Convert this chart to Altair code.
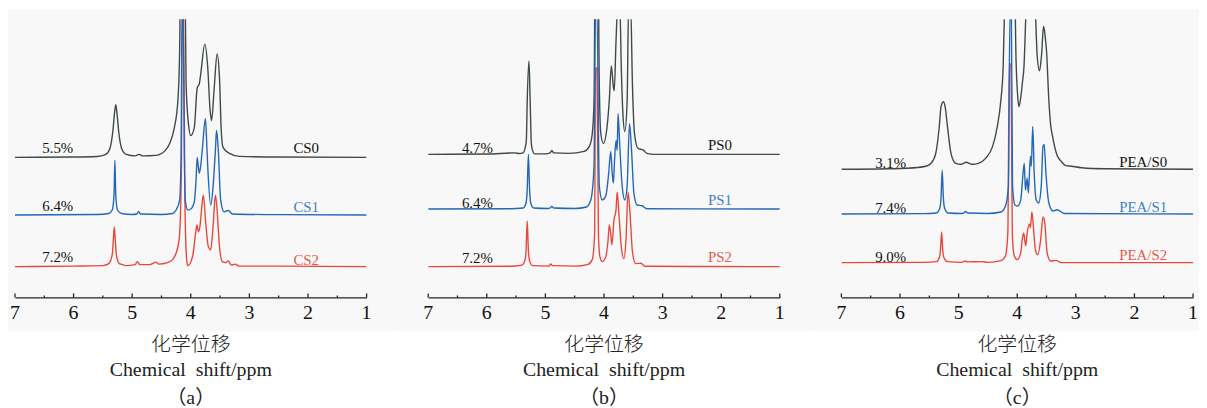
import altair as alt
import pandas as pd

# ---------------- data ----------------
TICK_PPM = [7.0, 6.5, 6.0, 5.5, 5.0, 4.5, 4.0, 3.5, 3.0, 2.5, 2.0, 1.5, 1.0]
AXIS_LABEL_PPM = [7, 6, 5, 4, 3, 2, 1]

# panel (a)
CS0_ppm = [7.0, 6.0, 5.6, 5.45, 5.38, 5.33, 5.30, 5.28, 5.26, 5.23, 5.18, 5.10, 4.95, 4.88, 4.82, 4.60, 4.53, 4.45, 4.36, 4.28, 4.22, 4.19, 4.16, 4.12, 4.10, 4.08, 4.04, 4.00, 3.94, 3.89, 3.855, 3.83, 3.76, 3.71, 3.67, 3.645, 3.60, 3.55, 3.51, 3.48, 3.45, 3.34, 3.17, 2.5, 1.0]
CS0_int = [0, 0.3, 0.8, 3, 9, 26, 45, 53, 45, 26, 9, 3, 1.5, 3, 1.5, 2, 3, 6, 14, 30, 57, 107, 260, 260, 200, 74, 34, 22, 30, 70, 74, 84, 114, 90, 47, 37, 70, 104, 80, 27, 10, 4, 1, 0.3, 0]
CS1_ppm = [7.0, 5.6, 5.40, 5.34, 5.31, 5.295, 5.28, 5.25, 5.18, 5.0, 4.92, 4.89, 4.86, 4.5, 4.31, 4.25, 4.19, 4.165, 4.15, 4.13, 4.11, 4.09, 4.05, 4.0, 3.94, 3.91, 3.89, 3.87, 3.855, 3.83, 3.80, 3.75, 3.73, 3.71, 3.66, 3.62, 3.58, 3.56, 3.53, 3.49, 3.43, 3.36, 3.29, 2.5, 1.0]
CS1_int = [0, 0.5, 1.5, 5, 20, 55, 20, 5, 1.5, 0.5, 1, 3.5, 1, 0.5, 1.5, 5, 15, 60, 200, 200, 60, 13, 5, 6, 13, 35, 58, 48, 42, 50, 68, 97, 75, 48, 10, 28, 65, 85, 65, 15, 3, 4.5, 1, 0.3, 0]
CS2_ppm = [7.0, 6.0, 5.5, 5.40, 5.34, 5.32, 5.305, 5.29, 5.27, 5.22, 5.16, 5.10, 4.95, 4.91, 4.87, 4.7, 4.59, 4.55, 4.4, 4.31, 4.22, 4.19, 4.16, 4.145, 4.125, 4.10, 4.07, 4.05, 3.97, 3.91, 3.895, 3.87, 3.845, 3.80, 3.785, 3.745, 3.70, 3.66, 3.62, 3.58, 3.555, 3.51, 3.46, 3.40, 3.36, 3.31, 3.24, 3.18, 2.5, 1.0]
CS2_int = [0, 0.5, 1, 3, 12, 28, 40, 28, 12, 3, 2, 1, 2, 5, 2, 2, 4.5, 2.5, 4, 7, 20, 33, 100, 260, 260, 67, 7, 1, 10, 37, 42, 35, 40, 67, 72, 44, 20, 17, 40, 72, 60, 20, 5, 4, 6, 1.5, 2.5, 0.5, 0.5, 0]

# panel (b)
PS0_ppm = [7.0, 6.0, 5.52, 5.45, 5.38, 5.34, 5.325, 5.31, 5.28, 5.26, 5.24, 5.22, 5.18, 5.0, 4.92, 4.89, 4.86, 4.6, 4.34, 4.25, 4.20, 4.17, 4.145, 4.11, 4.08, 4.055, 4.01, 3.955, 3.91, 3.875, 3.84, 3.825, 3.795, 3.765, 3.73, 3.705, 3.68, 3.645, 3.605, 3.58, 3.545, 3.515, 3.48, 3.42, 3.33, 3.27, 3.13, 1.0]
PS0_int = [0, 0.3, 1.5, 0.8, 1.5, 8, 14, 54, 94, 54, 11, 4, 0.5, 0.5, 1.5, 4, 1.5, 1, 3, 8, 21, 54, 250, 250, 71, 21, 11, 24, 54, 89, 68, 64, 114, 150, 150, 88, 44, 23, 54, 150, 150, 71, 21, 6, 4.3, 1, 0, 0]
PS1_ppm = [7.0, 5.6, 5.38, 5.33, 5.31, 5.29, 5.27, 5.25, 5.20, 4.95, 4.92, 4.89, 4.86, 4.5, 4.30, 4.225, 4.17, 4.145, 4.12, 4.08, 4.03, 3.97, 3.92, 3.885, 3.86, 3.84, 3.82, 3.795, 3.775, 3.76, 3.73, 3.69, 3.645, 3.605, 3.565, 3.53, 3.49, 3.435, 3.35, 3.27, 1.0]
PS1_int = [0, 0.3, 1, 6, 20, 55, 20, 6, 1, 0.5, 1, 2.6, 1, 0.5, 2, 9, 43, 200, 200, 23, 9, 13, 36, 58, 36, 26, 49, 69, 59, 96, 63, 23, 9, 23, 86, 59, 16, 4, 3.3, 0.3, 0]
PS2_ppm = [7.0, 5.6, 5.40, 5.35, 5.33, 5.31, 5.29, 5.27, 5.22, 4.95, 4.93, 4.91, 4.88, 4.5, 4.28, 4.20, 4.16, 4.145, 4.12, 4.095, 4.07, 4.03, 3.97, 3.93, 3.91, 3.885, 3.865, 3.83, 3.795, 3.775, 3.745, 3.705, 3.66, 3.625, 3.59, 3.555, 3.515, 3.46, 3.37, 3.3, 1.0]
PS2_int = [0, 0.3, 1.5, 6, 16, 46, 16, 6, 1, 0.5, 1, 2.7, 1, 0.5, 2, 7, 33, 200, 200, 33, 10, 5, 10, 27, 42, 33, 22, 47, 57, 75, 53, 20, 8, 27, 75, 53, 15, 3, 3.4, 0.3, 0]

# panel (c)
PEAS0_ppm = [7.0, 6.2, 5.88, 5.56, 5.47, 5.39, 5.33, 5.30, 5.26, 5.23, 5.19, 5.13, 5.05, 4.96, 4.87, 4.77, 4.66, 4.54, 4.42, 4.34, 4.28, 4.24, 4.21, 4.15, 4.06, 4.02, 3.99, 3.97, 3.94, 3.91, 3.885, 3.85, 3.80, 3.74, 3.69, 3.66, 3.62, 3.585, 3.55, 3.52, 3.50, 3.46, 3.43, 3.40, 3.32, 3.25, 3.18, 3.07, 2.9, 2.5, 1.0]
PEAS0_int = [0, 0.5, 1, 3, 6, 16, 43, 63, 68, 63, 43, 16, 6, 5, 7, 5, 6, 11, 23, 43, 69, 103, 180, 250, 250, 110, 72, 63, 72, 88, 103, 160, 220, 220, 160, 115, 99, 115, 144, 132, 119, 69, 45, 34, 14, 8, 4, 3, 1.5, 0.5, 0]
PEAS1_ppm = [7.0, 5.6, 5.38, 5.32, 5.30, 5.28, 5.26, 5.24, 5.18, 4.95, 4.91, 4.88, 4.85, 4.5, 4.28, 4.20, 4.15, 4.125, 4.10, 4.08, 4.04, 3.995, 3.94, 3.91, 3.88, 3.86, 3.83, 3.81, 3.775, 3.76, 3.735, 3.71, 3.675, 3.635, 3.59, 3.56, 3.54, 3.51, 3.46, 3.39, 3.32, 3.2, 1.0]
PEAS1_int = [0, 0.3, 1, 6, 16, 44, 16, 6, 1, 0.5, 1, 2.6, 1, 0.5, 2, 8, 28, 200, 200, 28, 9, 8, 14, 34, 51, 24, 36, 21, 58, 48, 88, 41, 14, 11, 28, 68, 70, 41, 11, 3, 4.3, 0.5, 0]
PEAS2_ppm = [7.0, 5.6, 5.38, 5.33, 5.31, 5.29, 5.27, 5.25, 5.19, 4.95, 4.92, 4.89, 4.86, 4.6, 4.5, 4.28, 4.20, 4.16, 4.135, 4.11, 4.08, 4.05, 4.0, 3.94, 3.915, 3.89, 3.87, 3.855, 3.83, 3.79, 3.775, 3.75, 3.72, 3.69, 3.65, 3.60, 3.56, 3.53, 3.49, 3.43, 3.34, 3.25, 1.0]
PEAS2_int = [0, 0.3, 1, 5, 12, 31, 12, 5, 1, 0.3, 0.8, 1.6, 0.8, 1, 0.3, 2, 7, 30, 200, 200, 23, 7, 3, 10, 23, 30, 22, 17, 30, 39, 35, 51, 33, 13, 8, 23, 46, 40, 10, 1.6, 2.3, 0, 0]

TRACES = [
    [(CS0_ppm, CS0_int), (CS1_ppm, CS1_int), (CS2_ppm, CS2_int)],
    [(PS0_ppm, PS0_int), (PS1_ppm, PS1_int), (PS2_ppm, PS2_int)],
    [(PEAS0_ppm, PEAS0_int), (PEAS1_ppm, PEAS1_int), (PEAS2_ppm, PEAS2_int)],
]
SERIES_NAMES = [["CS0", "CS1", "CS2"], ["PS0", "PS1", "PS2"], ["PEA/S0", "PEA/S1", "PEA/S2"]]
SERIES_OFFSETS = [[141, 83, 31], [144, 89, 31], [129, 84, 35]]
PCT_TEXT = [["5.5%", "6.4%", "7.2%"], ["4.7%", "6.4%", "7.2%"], ["3.1%", "7.4%", "9.0%"]]
PCT_PPM = [6.27, 6.16, 6.16]
PCT_Y = [[145, 87, 35.5], [145, 90, 35], [130, 85, 36]]
NAME_PPM = [2.03, 2.02, 1.85]
NAME_Y = [[145, 86, 33], [148, 93, 36], [131, 86, 38]]
PANEL_TAGS = ["（a）", "（b）", "（c）"]
X_TITLE_CN = "化学位移"
X_TITLE_EN = "Chemical\u00a0 shift/ppm"

# ---------------- styles ----------------
W, H = 354, 280
SPACING = 62
BG = "#f8f8f8"
LINE_COLORS = ["#3e4949", "#2467b8", "#e8483c"]
NAME_COLORS = ["#111111", "#3d7fc6", "#e65a4c"]
DRAW_ORDER = [0, 2, 1]
SERIF = "Liberation Serif"
CJK = "Noto Sans CJK SC"


def build_panel(i):
    xs = alt.Scale(domain=[7, 1], nice=False, zero=False)
    ys = alt.Scale(domain=[0, H], nice=False, zero=False)
    axis = alt.Axis(
        values=AXIS_LABEL_PPM, ticks=False, tickSize=0, grid=False, labels=False,
        domain=True, domainColor="#222222", domainWidth=1.3, title=None, zindex=1,
    )
    xenc = alt.X("ppm:Q", scale=xs, axis=axis)

    def yenc(field):
        return alt.Y(field, scale=ys, axis=None)

    left = -7 if i == 0 else -SPACING / 2
    right = W + 6 if i == 2 else W + SPACING / 2
    one = alt.Data(values=[{"k": 0}])
    bg = alt.Chart(one).mark_rect(color=BG).encode(
        x=alt.value(left), x2=alt.value(right), y=alt.value(-10), y2=alt.value(H + 34)
    )

    layers = [bg]
    for s in DRAW_ORDER:
        ppm, inten = TRACES[i][s]
        df = pd.DataFrame({"ppm": ppm, "y": [v + SERIES_OFFSETS[i][s] for v in inten]})
        layers.append(
            alt.Chart(df).mark_line(color=LINE_COLORS[s], strokeWidth=1.4, clip=True,
                                    interpolate="monotone")
            .encode(x=xenc, y=yenc("y:Q"))
        )

    tick_df = pd.DataFrame({"ppm": TICK_PPM})
    tick_df["y0"] = 0.0
    tick_df["y1"] = [4.0 if float(v).is_integer() else 2.0 for v in TICK_PPM]
    layers.append(
        alt.Chart(tick_df).mark_rule(color="#222222", strokeWidth=1.3).encode(
            x=xenc, y=yenc("y0:Q"), y2="y1:Q")
    )

    lab_df = pd.DataFrame({"ppm": AXIS_LABEL_PPM, "t": [str(v) for v in AXIS_LABEL_PPM]})
    lab_df["y"] = -22.0
    layers.append(
        alt.Chart(lab_df).mark_text(font=SERIF, fontSize=20, color="#111111",
                                    align="center", baseline="alphabetic")
        .encode(x=xenc, y=yenc("y:Q"), text="t:N")
    )

    pct_df = pd.DataFrame({"ppm": [PCT_PPM[i]] * 3, "y": PCT_Y[i], "t": PCT_TEXT[i]})
    layers.append(
        alt.Chart(pct_df).mark_text(font=SERIF, fontSize=15, color="#111111",
                                    align="center", baseline="alphabetic")
        .encode(x=xenc, y=yenc("y:Q"), text="t:N")
    )
    name_df = pd.DataFrame({"ppm": [NAME_PPM[i]] * 3, "y": NAME_Y[i],
                            "t": SERIES_NAMES[i], "c": NAME_COLORS})
    layers.append(
        alt.Chart(name_df).mark_text(font=SERIF, fontSize=15,
                                     align="center", baseline="alphabetic")
        .encode(x=xenc, y=yenc("y:Q"), text="t:N",
                color=alt.Color("c:N", scale=None))
    )

    layers.append(
        alt.Chart(one).mark_text(text=X_TITLE_CN, font=CJK, fontSize=20, fontWeight=300,
                                 color="#222222", align="center", baseline="alphabetic")
        .encode(x=alt.value(W / 2), y=alt.value(H + 54))
    )
    layers.append(
        alt.Chart(one).mark_text(text=X_TITLE_EN, font=SERIF, fontSize=20,
                                 color="#222222", align="center", baseline="alphabetic")
        .encode(x=alt.value(W / 2), y=alt.value(H + 79))
    )
    layers.append(
        alt.Chart(one).mark_text(text=PANEL_TAGS[i], font=SERIF + ", " + CJK, fontSize=20,
                                 color="#222222", align="center", baseline="alphabetic")
        .encode(x=alt.value(W / 2), y=alt.value(H + 107))
    )
    return alt.layer(*layers).properties(width=W, height=H)


chart = alt.hconcat(
    build_panel(0), build_panel(1), build_panel(2), spacing=SPACING, bounds="flush"
).properties(
    padding={"left": 0, "top": 0, "right": 0, "bottom": 0}
).configure(background="white").configure_view(stroke=None)

chart.save("out.html", embed_options={"renderer": "svg", "actions": False})
